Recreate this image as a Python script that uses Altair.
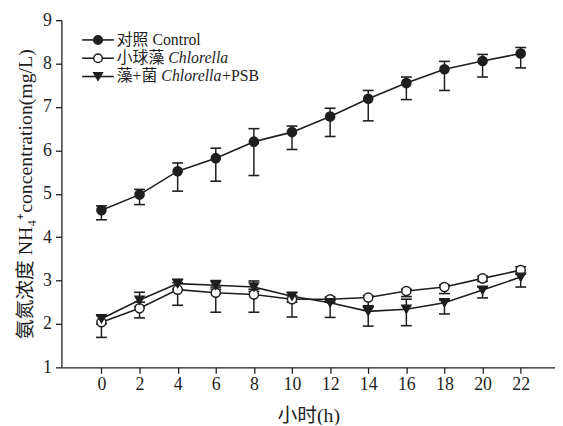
import altair as alt
import pandas as pd

hours = [0, 2, 4, 6, 8, 10, 12, 14, 16, 18, 20, 22]
series_names = ["对照 Control", "小球藻 Chlorella", "藻+菌 Chlorella+PSB"]

control_mean = [4.62, 4.98, 5.52, 5.82, 6.20, 6.42, 6.78, 7.19, 7.55, 7.87, 8.06, 8.23]
control_hi = [4.72, 5.10, 5.71, 6.05, 6.50, 6.56, 6.97, 7.38, 7.69, 8.05, 8.21, 8.37]
control_lo = [4.40, 4.75, 5.06, 5.29, 5.42, 6.02, 6.32, 6.68, 7.17, 7.38, 7.69, 7.90]

chl_mean = [2.04, 2.36, 2.79, 2.72, 2.68, 2.57, 2.57, 2.61, 2.76, 2.85, 3.05, 3.24]
chl_hi = [2.20, 2.50, 2.95, 2.85, 2.80, 2.65, 2.62, 2.65, 2.80, 2.90, 3.10, 3.32]
chl_lo = [1.69, 2.14, 2.43, 2.27, 2.27, 2.16, 2.50, 2.42, 2.63, 2.70, 2.98, 3.15]

psb_mean = [2.12, 2.55, 2.93, 2.89, 2.85, 2.64, 2.49, 2.29, 2.34, 2.49, 2.78, 3.08]
psb_hi = [2.19, 2.73, 3.03, 3.00, 2.99, 2.72, 2.55, 2.40, 2.57, 2.55, 2.85, 3.15]
psb_lo = [2.00, 2.40, 2.80, 2.80, 2.75, 2.50, 2.15, 1.95, 1.96, 2.23, 2.60, 2.85]

# legend label pieces (plain / italic / plain)
legend_prefix = ["对照 Control", "小球藻 ", "藻+菌 "]
legend_italic = ["", "Chlorella", "Chlorella"]
legend_suffix = ["", "", "+PSB"]

rows = []
for name, m, lo, hi in zip(series_names,
                           [control_mean, chl_mean, psb_mean],
                           [control_lo, chl_lo, psb_lo],
                           [control_hi, chl_hi, psb_hi]):
    for t, a, b, c in zip(hours, m, lo, hi):
        rows.append({"series": name, "t": t, "mean": a, "lo": b, "hi": c})
df = pd.DataFrame(rows)

# legend layout (pixels inside the plot area)
LEG_FS = 16
LEG_ROW0, LEG_ROWSTEP = 20, 18.5
LEG_LINE_X0, LEG_LINE_X1, LEG_SYM_X, LEG_TEXT_X = 21, 53, 37, 56
prefix_w = [0, 3 * LEG_FS + 0.25 * LEG_FS, 2 * LEG_FS + 0.564 * LEG_FS + 0.25 * LEG_FS]
italic_w = 3.834 * LEG_FS

leg = pd.DataFrame({
    "series": series_names,
    "row": list(range(len(series_names))),
    "prefix": legend_prefix,
    "italic": legend_italic,
    "suffix": legend_suffix,
})
leg["ypix"] = LEG_ROW0 + LEG_ROWSTEP * leg["row"]
leg["x_prefix"] = LEG_TEXT_X
leg["x_italic"] = [LEG_TEXT_X + w for w in prefix_w]
leg["x_suffix"] = [LEG_TEXT_X + w + (italic_w if it else 0) for w, it in zip(prefix_w, legend_italic)]

INK = "#1e1e1e"
FONT = "Liberation Serif, Noto Sans CJK SC"

x = alt.X("t:Q", scale=alt.Scale(domain=[-2.1, 23.8], nice=False, zero=False),
          axis=alt.Axis(values=hours, title="小时(h)"))
y = alt.Y("mean:Q", scale=alt.Scale(domain=[1, 9], nice=False, zero=False),
          axis=alt.Axis(values=list(range(1, 10)), title="氨氮浓度 NH₄⁺concentration(mg/L)"))

shape_enc = alt.Shape("series:N", scale=alt.Scale(domain=series_names,
                                                  range=["circle", "circle", "triangle-down"]), legend=None)
fill_enc = alt.Fill("series:N", scale=alt.Scale(domain=series_names,
                                                range=[INK, "white", INK]), legend=None)

base = alt.Chart(df)

lines = base.mark_line(color=INK, strokeWidth=1.6).encode(x=x, y=y, detail="series:N")
rules = base.mark_rule(color=INK, strokeWidth=1.5).encode(x=x, y="lo:Q", y2="hi:Q")
cap_lo = base.mark_tick(orient="horizontal", size=11, thickness=1.6, color=INK, opacity=1).encode(x=x, y="lo:Q")
cap_hi = base.mark_tick(orient="horizontal", size=11, thickness=1.6, color=INK, opacity=1).encode(x=x, y="hi:Q")
points = base.mark_point(filled=True, size=85, stroke=INK, strokeWidth=1.5, opacity=1).encode(
    x=x, y=y, shape=shape_enc, fill=fill_enc)

lbase = alt.Chart(leg)
ly = alt.Y("ypix:Q", scale=None, axis=None)
leg_lines = lbase.mark_rule(color=INK, strokeWidth=1.6).encode(
    x=alt.value(LEG_LINE_X0), x2=alt.value(LEG_LINE_X1), y=ly)
leg_pts = lbase.mark_point(filled=True, size=75, stroke=INK, strokeWidth=1.5, opacity=1).encode(
    x=alt.value(LEG_SYM_X), y=ly, shape=shape_enc, fill=fill_enc)
txt_kw = dict(align="left", baseline="middle", font=FONT, fontSize=LEG_FS, color=INK)
leg_t1 = lbase.mark_text(**txt_kw).encode(x=alt.X("x_prefix:Q", scale=None, axis=None), y=ly, text="prefix:N")
leg_t2 = lbase.mark_text(fontStyle="italic", **txt_kw).encode(
    x=alt.X("x_italic:Q", scale=None, axis=None), y=ly, text="italic:N")
leg_t3 = lbase.mark_text(**txt_kw).encode(x=alt.X("x_suffix:Q", scale=None, axis=None), y=ly, text="suffix:N")

chart = alt.layer(lines, rules, cap_lo, cap_hi, points,
                  leg_lines, leg_pts, leg_t1, leg_t2, leg_t3).properties(
    width=499, height=351,
    autosize=alt.AutoSizeParams(type="none"),
    padding={"left": 54, "top": 10, "right": 0, "bottom": 56},
    background="white",
).configure_view(stroke=None).configure_axis(
    domainColor=INK, domainWidth=1.3, tickColor=INK, tickWidth=1.3, tickSize=6,
    grid=False, labelFont=FONT, labelFontSize=18, labelColor=INK,
    titleFont=FONT, titleFontSize=20, titleColor=INK, titleFontWeight="normal",
).configure_axisX(
    labelPadding=2, titlePadding=13,
).configure_axisY(
    labelPadding=4, titlePadding=7,
)

chart.save("out.html", embed_options={"renderer": "svg", "actions": False})
